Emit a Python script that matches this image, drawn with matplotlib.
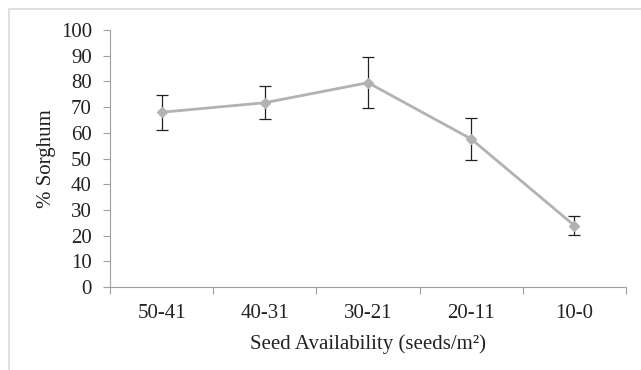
import matplotlib
matplotlib.use("Agg")
import matplotlib.pyplot as plt
from matplotlib.patches import Rectangle
import numpy as np

categories = ["50-41", "40-31", "30-21", "20-11", "10-0"]
sorghum_pct = [68.0, 71.7, 79.5, 57.6, 23.9]
error = [6.9, 6.4, 9.9, 8.0, 3.7]
yticks = [0, 10, 20, 30, 40, 50, 60, 70, 80, 90, 100]

plt.rcParams['font.family'] = ['Liberation Serif', 'DejaVu Serif']

fig = plt.figure(figsize=(6.41, 3.70), dpi=100)
ax = fig.add_axes([110/641, 83/370, 516/641, 257/370])

# figure frame (top and left visible)
fig.patches.append(Rectangle((9/641, -0.1), 1.2, (370-9)/370 + 0.1, transform=fig.transFigure,
                             fill=False, edgecolor='#d9d9d9', linewidth=1.2))

x = np.arange(len(categories))
ax.errorbar(x, sorghum_pct, yerr=error, fmt='none', ecolor='#222222', elinewidth=0.9,
            capsize=4, capthick=0.9, zorder=2)
ax.plot(x, sorghum_pct, color='#b2b2b4', linewidth=2.0, marker='D', markersize=5,
        markerfacecolor='#b2b2b4', markeredgecolor='#b2b2b4', zorder=3)

ax.set_xlim(-0.5, len(categories) - 0.5)
ax.set_ylim(0, 100)
ax.set_yticks(yticks)
ax.set_xticks(x)
ax.set_xticklabels(categories)
ax.set_xticks(np.arange(-0.5, len(categories)), minor=True)
ax.tick_params(axis='x', which='major', length=0, labelsize=15, pad=12, colors='#222222')
ax.tick_params(axis='x', which='minor', length=5, color='#a0a0a0', width=0.8)
ax.tick_params(axis='y', length=5, color='#a0a0a0', width=0.8, labelsize=15, pad=8,
               labelcolor='#222222')

for s in ['top', 'right']:
    ax.spines[s].set_visible(False)
for s in ['left', 'bottom']:
    ax.spines[s].set_color('#a0a0a0')
    ax.spines[s].set_linewidth(0.8)

ax.set_ylabel('% Sorghum', fontsize=15, color='#222222', labelpad=3.5)
ax.set_xlabel('Seed Availability (seeds/m²)', fontsize=15, color='#222222', labelpad=8)

fig.savefig('out.png', dpi=100)
